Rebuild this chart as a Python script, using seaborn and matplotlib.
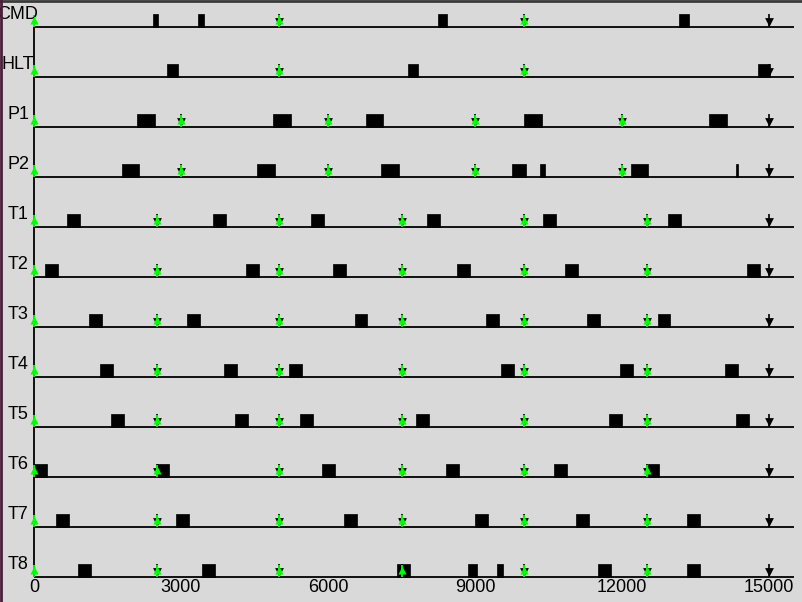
import matplotlib
matplotlib.use("Agg")
import matplotlib.pyplot as plt
import seaborn as sns
import pandas as pd

# task rows, top to bottom
tasks = ["CMD", "HLT", "P1", "P2", "T1", "T2", "T3", "T4", "T5", "T6", "T7", "T8"]

# execution slices (start, end)
cmd_runs = [(2430, 2525), (3350, 3465), (8245, 8430), (13165, 13360)]
hlt_runs = [(2715, 2935), (7635, 7840), (14775, 15020)]
p1_runs = [(2100, 2470), (4880, 5245), (6775, 7120), (10000, 10370), (13775, 14145)]
p2_runs = [(1795, 2145), (4550, 4920), (7080, 7450), (9755, 10040), (10325, 10430),
           (12185, 12530), (14325, 14370)]
t1_runs = [(675, 940), (3655, 3910), (5655, 5920), (8020, 8285), (10390, 10655), (12940, 13205)]
t2_runs = [(225, 490), (4325, 4590), (6100, 6365), (8635, 8900), (10840, 11100), (14550, 14815)]
t3_runs = [(1120, 1390), (3120, 3390), (6550, 6800), (9225, 9490), (11285, 11550), (12735, 12980)]
t4_runs = [(1345, 1610), (3880, 4145), (5205, 5470), (9530, 9795), (11960, 12225), (14100, 14365)]
t5_runs = [(1570, 1835), (4100, 4365), (5430, 5695), (7795, 8060), (11735, 12000), (14325, 14590)]
t6_runs = [(0, 265), (2510, 2755), (5880, 6145), (8410, 8675), (10610, 10880), (12530, 12755)]
t7_runs = [(450, 710), (2900, 3160), (6325, 6590), (9000, 9265), (11060, 11325), (13325, 13590)]
t8_runs = [(900, 1160), (3430, 3690), (7410, 7670), (8855, 9035), (9450, 9570),
           (11510, 11775), (13325, 13590)]
runs = [cmd_runs, hlt_runs, p1_runs, p2_runs, t1_runs, t2_runs, t3_runs,
        t4_runs, t5_runs, t6_runs, t7_runs, t8_runs]

# releases (green up arrows) and deadlines (black down arrows)
rel_5000 = [0, 5000, 10000]
rel_3000 = [0, 3000, 6000, 9000, 12000]
rel_2500 = [0, 2500, 5000, 7500, 10000, 12500]
dl_5000 = [5000, 10000, 15000]
dl_3000 = [3000, 6000, 9000, 12000, 15000]
dl_2500 = [2500, 5000, 7500, 10000, 12500, 15000]
releases = [rel_5000, rel_5000, rel_3000, rel_3000] + [rel_2500] * 8
deadlines = [dl_5000, dl_5000, dl_3000, dl_3000] + [dl_2500] * 8

xticks = [0, 3000, 6000, 9000, 12000, 15000]
xtick_labels = ["0", "3000", "6000", "9000", "12000", "15000"]

bg = "#d9d9d9"
green = "#00ff00"
sns.set_style("white", {"axes.facecolor": bg, "figure.facecolor": bg})
plt.rcParams["font.family"] = ["Liberation Sans", "DejaVu Sans"]

fig = plt.figure(figsize=(8.02, 6.02), dpi=100)
ax = fig.add_axes([0, 0, 1, 1])
ax.set_facecolor(bg)

# 0.049 px per time unit, origin at x=34 px; rows every 50 px starting at 27 px
scale = 0.049
ax.set_xlim(-34 / scale, (802 - 34) / scale)
ax.set_ylim(575 / 50, -27 / 50)
ax.axis("off")

h = 0.26  # box height (13 px)
x_end = (794 - 34) / scale
ax.hlines(range(len(tasks)), 0, x_end, color="black", lw=1.3)
ax.vlines(0, 0, len(tasks) - 1, color="black", lw=1.3)

for i, r in enumerate(runs):
    ax.broken_barh([(s, e - s) for s, e in r], (i - h, h), facecolor="black",
                   edgecolor="black", linewidth=0.5)

dl = pd.DataFrame([(t, i) for i, d in enumerate(deadlines) for t in d], columns=["t", "row"])
rl = pd.DataFrame([(t, i) for i, d in enumerate(releases) for t in d], columns=["t", "row"])

ax.vlines(dl["t"], dl["row"] - h, dl["row"], color="black", lw=1.2)
sns.scatterplot(x=dl["t"], y=dl["row"] - 0.11, marker="v", s=40, color="black",
                linewidth=0, ax=ax, legend=False)
ax.vlines(rl["t"], rl["row"] - 0.24, rl["row"], color=green, lw=1.3)
sns.scatterplot(x=rl["t"], y=rl["row"] - 0.15, marker="^", s=34, color=green,
                linewidth=0, ax=ax, legend=False, zorder=5)

for i, name in enumerate(tasks):
    ax.text(-326, i - 0.25, name, ha="center", va="center", fontsize=13, color="black")

for t, lab in zip(xticks, xtick_labels):
    ax.text(t, (587 - 27) / 50, lab, ha="center", va="center", fontsize=13, color="black")

# window frame edges
fig.add_artist(plt.Line2D([0, 1], [0.999, 0.999], transform=fig.transFigure, color="#3a3a3a", lw=2))
fig.add_artist(plt.Line2D([0.001, 0.001], [0, 1], transform=fig.transFigure, color="#4a1f3a", lw=2))

fig.savefig("out.png", dpi=100, facecolor=bg)
